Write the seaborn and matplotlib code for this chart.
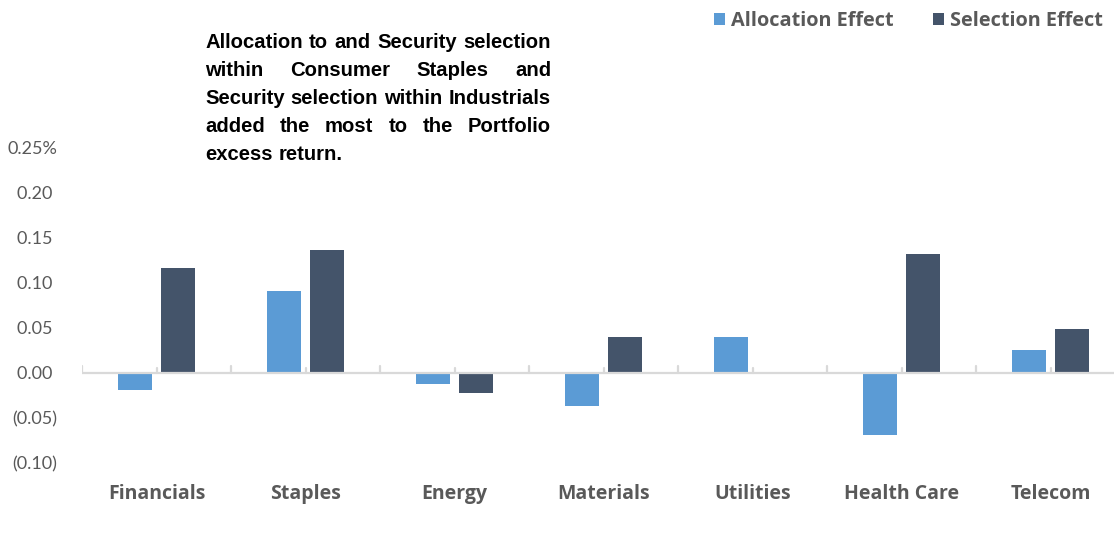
import pandas as pd
import matplotlib
matplotlib.use('Agg')
import matplotlib.pyplot as plt
import seaborn as sns

# Valeurs
sectors = ['Financials', 'Staples', 'Energy', 'Materials', 'Utilities', 'Health Care', 'Telecom']
allocation = [-0.019, 0.090, -0.013, -0.037, 0.040, -0.069, 0.025]
selection = [0.116, 0.136, -0.023, 0.040, 0.0, 0.131, 0.048]
series = ['Allocation Effect', 'Selection Effect']
ytick_vals = [-0.10, -0.05, 0.0, 0.05, 0.10, 0.15, 0.20, 0.25]
ytick_labels = ['(0.10)', '(0.05)', '0.00 ', '0.05 ', '0.10 ', '0.15 ', '0.20 ', '0.25%']
note_lines = ['Allocation to and Security selection',
              'within Consumer Staples and',
              'Security selection within Industrials',
              'added the most to the Portfolio',
              'excess return.']

colors = {'Allocation Effect': '#5B9BD5', 'Selection Effect': '#44546A'}
grey = '#595959'

df = pd.DataFrame({
    'Sector': sectors * 2,
    'Effect': [series[0]] * len(sectors) + [series[1]] * len(sectors),
    'Value': allocation + selection,
})

sns.set_style('white')
plt.rcParams['font.family'] = ['Lato', 'DejaVu Sans']
note_font = 'Liberation Sans'
bold_font = ['Open Sans', 'DejaVu Sans']

W, H = 1114, 533
fig = plt.figure(figsize=(W / 100, H / 100), dpi=100)
ax = fig.add_axes([82 / W, 1 - 463 / H, (1125 - 82) / W, (463 - 147) / H])

sns.barplot(data=df, x='Sector', y='Value', hue='Effect', hue_order=series,
            palette=colors, width=0.57, gap=0.2, linewidth=0, saturation=1,
            errorbar=None, ax=ax)

ax.set_xlim(-0.5, len(sectors) - 0.5)
ax.set_ylim(-0.10, 0.25)
ax.set_yticks(ytick_vals)
ax.set_yticklabels(ytick_labels)
ax.set_xlabel('')
ax.set_ylabel('')
for s in ax.spines.values():
    s.set_visible(False)
ax.tick_params(axis='y', length=0, pad=18, labelsize=13, labelcolor=grey)
ax.tick_params(axis='x', length=0, pad=15, labelsize=14, labelcolor=grey)
for lab in ax.get_xticklabels():
    lab.set_fontweight('bold')
    lab.set_family(bold_font)

# ligne zéro + petites graduations
ax.axhline(0, color='#D9D9D9', lw=1.6, zorder=1)
for i in range(len(sectors) + 1):
    ax.plot([i - 0.5, i - 0.5], [0, 0.0078], color='#D9D9D9', lw=1.6, zorder=1)
for i in range(len(sectors)):
    ax.plot([i, i], [0, 0.005], color='#D9D9D9', lw=1.6, zorder=1)

sns.move_legend(ax, 'upper right', bbox_to_anchor=(1103 / W, 1 - 11 / H),
                bbox_transform=fig.transFigure, ncol=2, frameon=False, title=None,
                handlelength=0.55, handleheight=0.55, handletextpad=0.3,
                columnspacing=2.0, borderaxespad=0, borderpad=0,
                prop={'family': bold_font, 'weight': 'bold', 'size': 14.3})
for t in ax.get_legend().get_texts():
    t.set_color(grey)

# texte justifié, taille ajustée pour que la ligne la plus longue tienne
renderer = fig.canvas.get_renderer()
x0, x1 = 205, 551
probe = fig.text(0, 0, note_lines[2], fontsize=10, fontweight='bold', family=note_font)
note_size = 10 * (x1 - x0) / probe.get_window_extent(renderer).width
probe.remove()

for k, line in enumerate(note_lines):
    yb = 1 - (48 + 28 * k) / H
    words = line.split()
    texts = [fig.text(0, yb, w, fontsize=note_size, fontweight='bold', family=note_font,
                      color='black', va='baseline', ha='left') for w in words]
    widths = [t.get_window_extent(renderer).width for t in texts]
    if k < len(note_lines) - 1 and len(words) > 1:
        gap = (x1 - x0 - sum(widths)) / (len(words) - 1)
    else:
        gap = renderer.points_to_pixels(note_size) * 0.28
    x = x0
    for t, w in zip(texts, widths):
        t.set_x(x / W)
        x += w + gap

fig.savefig('out.png', dpi=100)
